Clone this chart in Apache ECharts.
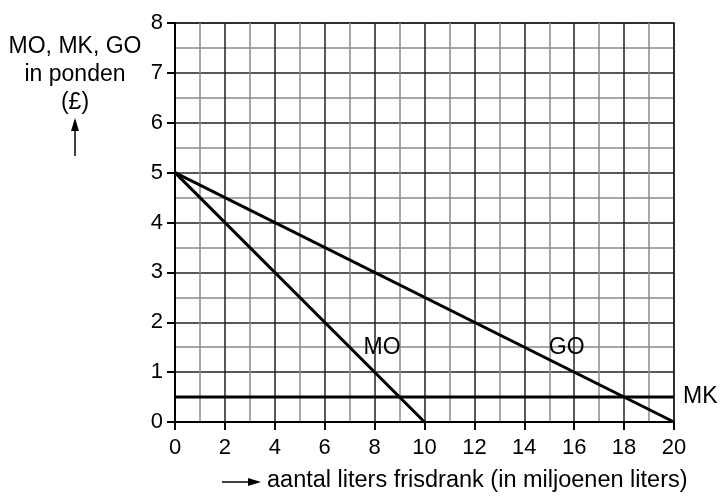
<!DOCTYPE html>
<html>
<head>
<meta charset="utf-8">
<script src="https://cdn.jsdelivr.net/npm/echarts@6/dist/echarts.min.js"></script>
<style>
  html, body { margin: 0; padding: 0; background: #fff; }
  #chart { width: 722px; height: 501px; }
</style>
</head>
<body>
<div id="chart"></div>
<script>
// line endpoints: [quantity, pounds]
var moPoints = [[0, 5], [10, 0]];
var goPoints = [[0, 5], [20, 0]];
var mkPoints = [[0, 0.5], [20, 0.5]];
// where the curve labels sit
var moLabelAt = [8.3, 1.5];
var goLabelAt = [15.7, 1.5];

var xName = "aantal liters frisdrank (in miljoenen liters)";
var yNameLines = ["MO, MK, GO", "in ponden", "(£)"];

var font = "Liberation Sans, Arial, sans-serif";
var chart = echarts.init(document.getElementById("chart"));

function curve(name, pts) {
  return {
    name: name,
    type: "line",
    data: pts,
    symbol: "none",
    silent: true,
    lineStyle: { color: "#000", width: 3 },
    z: 5
  };
}

var mk = curve("MK", mkPoints);
mk.endLabel = {
  show: true,
  formatter: "MK",
  distance: 9,
  fontSize: 23,
  fontFamily: font,
  color: "#000"
};

var labels = {
  type: "scatter",
  symbolSize: 0,
  silent: true,
  itemStyle: { opacity: 1, color: "#000" },
  data: [
    { value: moLabelAt, name: "MO" },
    { value: goLabelAt, name: "GO" }
  ],
  label: {
    show: true,
    position: "inside",
    formatter: "{b}",
    fontSize: 23,
    fontFamily: font,
    color: "#000",
    opacity: 1,
    textBorderWidth: 0
  },
  z: 6
};

var axisCommon = {
  type: "value",
  axisLine: { show: true, onZero: false, lineStyle: { color: "#000", width: 2 } },
  axisTick: { show: true, length: 8, lineStyle: { color: "#000", width: 2 } },
  axisLabel: { fontSize: 22, fontFamily: font, color: "#000", margin: 12 },
  splitLine: { show: true, lineStyle: { color: "#222", width: 1.5 } },
  minorTick: { show: false, splitNumber: 2 },
  minorSplitLine: { show: true, lineStyle: { color: "#8a8a8a", width: 1.5 } }
};

chart.setOption({
  animation: false,
  backgroundColor: "#fff",
  grid: {
    left: 175, right: 48, top: 23, bottom: 79,
    show: true, borderColor: "#222", borderWidth: 1.5
  },
  xAxis: Object.assign({}, axisCommon, {
    min: 0, max: 20, interval: 2,
    axisLabel: { fontSize: 22, fontFamily: font, color: "#000", margin: 15 }
  }),
  yAxis: Object.assign({}, axisCommon, {
    min: 0, max: 8, interval: 1
  }),
  graphic: [
    {
      type: "text", x: 75, y: 33, z: 10,
      style: {
        text: yNameLines.join("\n"), align: "center",
        fontSize: 23, lineHeight: 28, fontFamily: font, fill: "#000"
      }
    },
    { type: "line", shape: { x1: 75, y1: 156, x2: 75, y2: 128 }, style: { stroke: "#000", lineWidth: 1.5 } },
    { type: "polygon", shape: { points: [[75, 118], [71, 131], [79, 131]] }, style: { fill: "#000" } },
    { type: "line", shape: { x1: 222, y1: 482, x2: 250, y2: 482 }, style: { stroke: "#000", lineWidth: 1.5 } },
    { type: "polygon", shape: { points: [[261, 482], [248, 478], [248, 486]] }, style: { fill: "#000" } },
    {
      type: "text", x: 267, y: 469,
      style: { text: xName, fontSize: 23.5, fontFamily: font, fill: "#000" }
    }
  ],
  series: [curve("MO", moPoints), curve("GO", goPoints), mk, labels]
});
</script>
</body>
</html>
